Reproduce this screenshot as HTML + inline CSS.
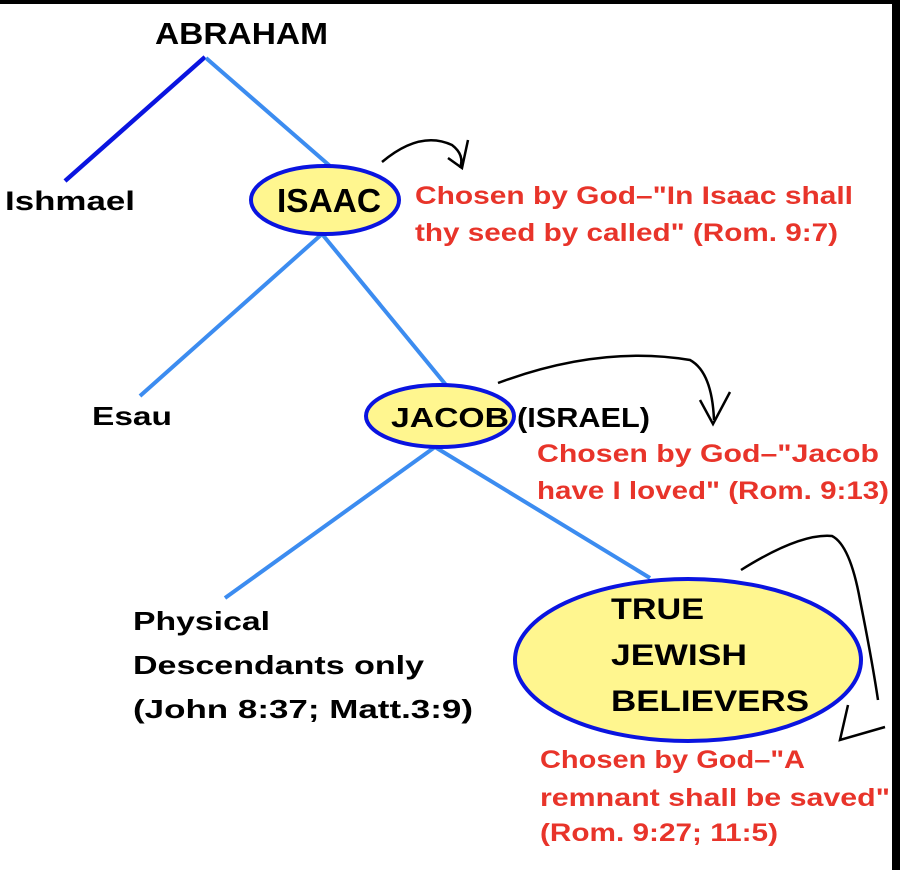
<!DOCTYPE html>
<html><head><meta charset="utf-8"><style>
html,body{margin:0;padding:0;background:#fff;}
body{width:900px;height:870px;overflow:hidden;position:relative;}
svg{position:absolute;left:0;top:0;}
text{font-family:"Liberation Sans",sans-serif;font-weight:bold;}
.r{fill:#e8342a;font-size:25px;}
.k{fill:#000;}
</style></head><body>
<svg width="900" height="870" viewBox="0 0 900 870">
<rect x="0" y="0" width="900" height="4" fill="#000"/>
<rect x="892" y="0" width="8" height="870" fill="#000"/>
<line x1="205" y1="57" x2="65" y2="181" stroke="#0a14e0" stroke-width="4.5"/>
<line x1="206" y1="58" x2="330" y2="166" stroke="#3c8cf0" stroke-width="4"/>
<line x1="322" y1="234" x2="140" y2="396" stroke="#3c8cf0" stroke-width="4"/>
<line x1="322" y1="234" x2="446" y2="385" stroke="#3c8cf0" stroke-width="4"/>
<line x1="435" y1="447" x2="225" y2="598" stroke="#3c8cf0" stroke-width="4"/>
<line x1="435" y1="447" x2="650" y2="578" stroke="#3c8cf0" stroke-width="4"/>
<ellipse cx="325" cy="200" rx="74" ry="34" fill="#fff68f" stroke="#0a14e0" stroke-width="4"/>
<ellipse cx="440" cy="416" rx="74" ry="31" fill="#fff68f" stroke="#0a14e0" stroke-width="4"/>
<ellipse cx="688" cy="660" rx="173" ry="81" fill="#fff68f" stroke="#0a14e0" stroke-width="4"/>
<path d="M382 162 Q420 130 452 145 Q465 155 460 168" fill="none" stroke="#000" stroke-width="2.5"/>
<path d="M448 158 L462 168 L468 140" fill="none" stroke="#000" stroke-width="2.5"/>
<path d="M498 383 Q600 345 690 360 Q712 372 714 420" fill="none" stroke="#000" stroke-width="2.5"/>
<path d="M700 400 L713 424 L730 392" fill="none" stroke="#000" stroke-width="2.5"/>
<path d="M741 570 Q800 533 832 536 Q850 545 860 600 Q872 660 878 700" fill="none" stroke="#000" stroke-width="2.5"/>
<path d="M848 705 L840 740 L885 727" fill="none" stroke="#000" stroke-width="2.5"/>
<text x="155" y="44" class="k" font-size="31" textLength="173" lengthAdjust="spacingAndGlyphs">ABRAHAM</text>
<text x="5" y="210" class="k" font-size="27" textLength="130" lengthAdjust="spacingAndGlyphs">Ishmael</text>
<text x="277" y="212" class="k" font-size="33" textLength="104" lengthAdjust="spacingAndGlyphs">ISAAC</text>
<text x="415" y="204" class="r" textLength="438" lengthAdjust="spacingAndGlyphs">Chosen by God–"In Isaac shall</text>
<text x="415" y="241" class="r" textLength="423" lengthAdjust="spacingAndGlyphs">thy seed by called" (Rom. 9:7)</text>
<text x="92" y="425" class="k" font-size="26" textLength="80" lengthAdjust="spacingAndGlyphs">Esau</text>
<text x="391" y="427" class="k" font-size="28" textLength="118" lengthAdjust="spacingAndGlyphs">JACOB</text>
<text x="517" y="427" class="k" font-size="28" textLength="133" lengthAdjust="spacingAndGlyphs">(ISRAEL)</text>
<text x="537" y="462" class="r" textLength="342" lengthAdjust="spacingAndGlyphs">Chosen by God–"Jacob</text>
<text x="537" y="499" class="r" textLength="352" lengthAdjust="spacingAndGlyphs">have I loved" (Rom. 9:13)</text>
<text x="133" y="630" class="k" font-size="26" textLength="137" lengthAdjust="spacingAndGlyphs">Physical</text>
<text x="133" y="674" class="k" font-size="26" textLength="291" lengthAdjust="spacingAndGlyphs">Descendants only</text>
<text x="133" y="718" class="k" font-size="26" textLength="340" lengthAdjust="spacingAndGlyphs">(John 8:37; Matt.3:9)</text>
<text x="611" y="619" class="k" font-size="30" textLength="93" lengthAdjust="spacingAndGlyphs">TRUE</text>
<text x="611" y="665" class="k" font-size="30" textLength="136" lengthAdjust="spacingAndGlyphs">JEWISH</text>
<text x="611" y="711" class="k" font-size="30" textLength="198" lengthAdjust="spacingAndGlyphs">BELIEVERS</text>
<text x="540" y="768" class="r" textLength="265" lengthAdjust="spacingAndGlyphs">Chosen by God–"A</text>
<text x="540" y="806" class="r" textLength="350" lengthAdjust="spacingAndGlyphs">remnant shall be saved"</text>
<text x="540" y="841" class="r" textLength="238" lengthAdjust="spacingAndGlyphs">(Rom. 9:27; 11:5)</text>
</svg>
</body></html>
